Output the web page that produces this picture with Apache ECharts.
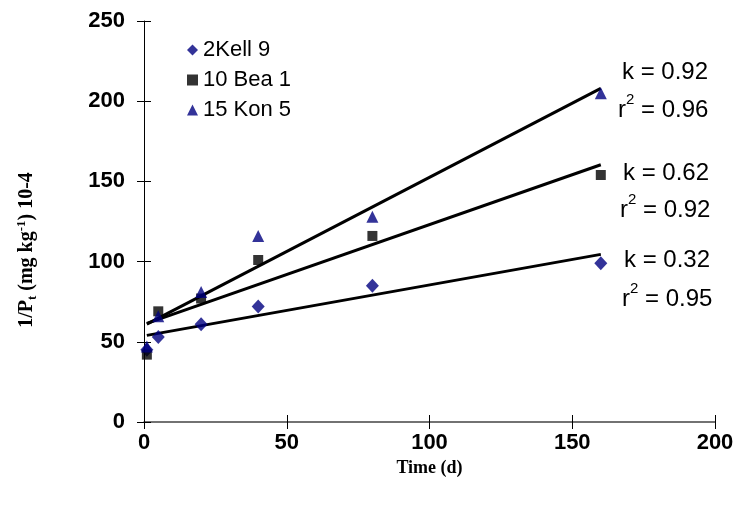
<!DOCTYPE html>
<html>
<head>
<meta charset="utf-8">
<script src="https://cdn.jsdelivr.net/npm/echarts@6/dist/echarts.min.js"></script>
<style>
html,body{margin:0;padding:0;background:#fff;}
#chart{width:737px;height:512px;}
</style>
</head>
<body>
<div id="chart"></div>
<script>
// Data
const days = [1, 5, 20, 40, 80, 160];
const kell = [45, 53, 61, 72, 85, 99];
const bea = [42, 69, 77, 101, 116, 154];
const kon = [47, 66, 81, 116, 128, 205];
// Fitted lines (end points)
const kellFitX = [1, 160];
const kellFitY = [54, 104.5];
const beaFitX = [1, 160];
const beaFitY = [61.5, 160.4];
const konFitX = [1, 160];
const konFitY = [61, 208];
const seriesNames = ['2Kell 9', '10 Bea 1', '15 Kon 5'];
const xTicks = [0, 50, 100, 150, 200];
const yTicks = [0, 50, 100, 150, 200, 250];
const kLabels = ['k = 0.92', 'k = 0.62', 'k = 0.32'];
const r2Labels = ['0.96', '0.92', '0.95'];

const pair = (xs, ys) => xs.map((x, i) => [x, ys[i]]);

const chart = echarts.init(document.getElementById('chart'), null, {renderer: 'canvas'});

const sans = 'Liberation Sans, Arial, sans-serif';
const serif = 'Liberation Serif, Times New Roman, serif';
const navy = '#000080';

const kY = [73, 174, 261];
const rY = [109, 209, 298];
const kX = [622, 623, 624];
const rX = [618, 620, 622];

const graphics = [];
kLabels.forEach((t, i) => {
  graphics.push({
    type: 'text', left: kX[i], top: kY[i] - 13, z: 100,
    style: {text: t, font: '24px ' + sans, fill: '#000'}
  });
  graphics.push({
    type: 'text', left: rX[i], top: rY[i] - 17, z: 100,
    style: {
      text: '{a|r}{s|2}{a| = ' + r2Labels[i] + '}',
      rich: {
        a: {fontSize: 24, fontFamily: sans, fill: '#000', color: '#000', verticalAlign: 'bottom', lineHeight: 30},
        s: {fontSize: 15, fontFamily: sans, fill: '#000', color: '#000', verticalAlign: 'top', lineHeight: 30}
      }
    }
  });
});
// Y axis title (rotated)
graphics.push({
  type: 'text', x: 27, y: 250, rotation: Math.PI / 2, z: 100,
  style: {
    text: '{b|1/P}{sub|t}{b| (mg kg}{sup|-1}{b|) 10-4}',
    align: 'center', verticalAlign: 'middle',
    rich: {
      b: {fontFamily: serif, fontWeight: 'bold', fontSize: 20, fill: '#000', color: '#000', verticalAlign: 'middle', lineHeight: 24},
      sub: {fontFamily: serif, fontWeight: 'bold', fontSize: 13, fill: '#000', color: '#000', verticalAlign: 'bottom', lineHeight: 24},
      sup: {fontFamily: serif, fontWeight: 'bold', fontSize: 13, fill: '#000', color: '#000', verticalAlign: 'top', lineHeight: 24}
    }
  }
});

const option = {
  backgroundColor: '#fff',
  animation: false,
  grid: {left: 144, right: 22, top: 21, bottom: 90, containLabel: false},
  legend: {
    orient: 'vertical', left: 182, top: 34,
    data: seriesNames,
    itemWidth: 11, itemHeight: 11, itemGap: 8,
    textStyle: {fontFamily: sans, fontSize: 22, color: '#000', lineHeight: 20}
  },
  xAxis: [{
    type: 'value', min: xTicks[0], max: xTicks[xTicks.length - 1], interval: 50,
    name: 'Time (d)', nameLocation: 'middle', nameGap: 37,
    nameTextStyle: {fontFamily: serif, fontWeight: 'bold', fontSize: 18, color: '#000'},
    axisLine: {onZero: false, lineStyle: {color: '#444', width: 1.5}},
    axisTick: {show: true, length: 7, lineStyle: {color: '#000'}},
    axisLabel: {fontFamily: sans, fontWeight: 'bold', fontSize: 22, color: '#000', margin: 10},
    splitLine: {show: false}
  }, {
    type: 'value', min: xTicks[0], max: xTicks[xTicks.length - 1], interval: 50, position: 'bottom',
    axisLine: {show: false},
    axisTick: {show: true, inside: true, length: 7, lineStyle: {color: '#000'}},
    axisLabel: {show: false}, splitLine: {show: false}
  }],
  yAxis: [{
    type: 'value', min: yTicks[0], max: yTicks[yTicks.length - 1], interval: 50,
    axisLine: {show: true, lineStyle: {color: '#000', width: 1}},
    axisTick: {show: true, length: 7, lineStyle: {color: '#000'}},
    axisLabel: {fontFamily: sans, fontWeight: 'bold', fontSize: 22, color: '#000', margin: 19},
    splitLine: {show: false}
  }, {
    type: 'value', min: yTicks[0], max: yTicks[yTicks.length - 1], interval: 50, position: 'left',
    axisLine: {show: false},
    axisTick: {show: true, inside: true, length: 7, lineStyle: {color: '#000'}},
    axisLabel: {show: false}, splitLine: {show: false}
  }],
  series: [
    {name: 'fitKon', type: 'line', data: pair(konFitX, konFitY), symbol: 'none', z: 2,
     lineStyle: {color: '#000', width: 3}},
    {name: 'fitBea', type: 'line', data: pair(beaFitX, beaFitY), symbol: 'none', z: 2,
     lineStyle: {color: '#000', width: 3}},
    {name: 'fitKell', type: 'line', data: pair(kellFitX, kellFitY), symbol: 'none', z: 2,
     lineStyle: {color: '#000', width: 3}},
    {name: seriesNames[0], type: 'scatter', data: pair(days, kell), symbol: 'diamond', symbolSize: [13, 14], z: 5,
     itemStyle: {color: navy}},
    {name: seriesNames[1], type: 'scatter', data: pair(days, bea), symbol: 'rect', symbolSize: 10, z: 5,
     itemStyle: {color: '#000'}},
    {name: seriesNames[2], type: 'scatter', data: pair(days, kon), symbol: 'triangle', symbolSize: [12, 12], z: 5,
     itemStyle: {color: navy}}
  ],
  graphic: graphics
};
chart.setOption(option);
</script>
</body>
</html>
